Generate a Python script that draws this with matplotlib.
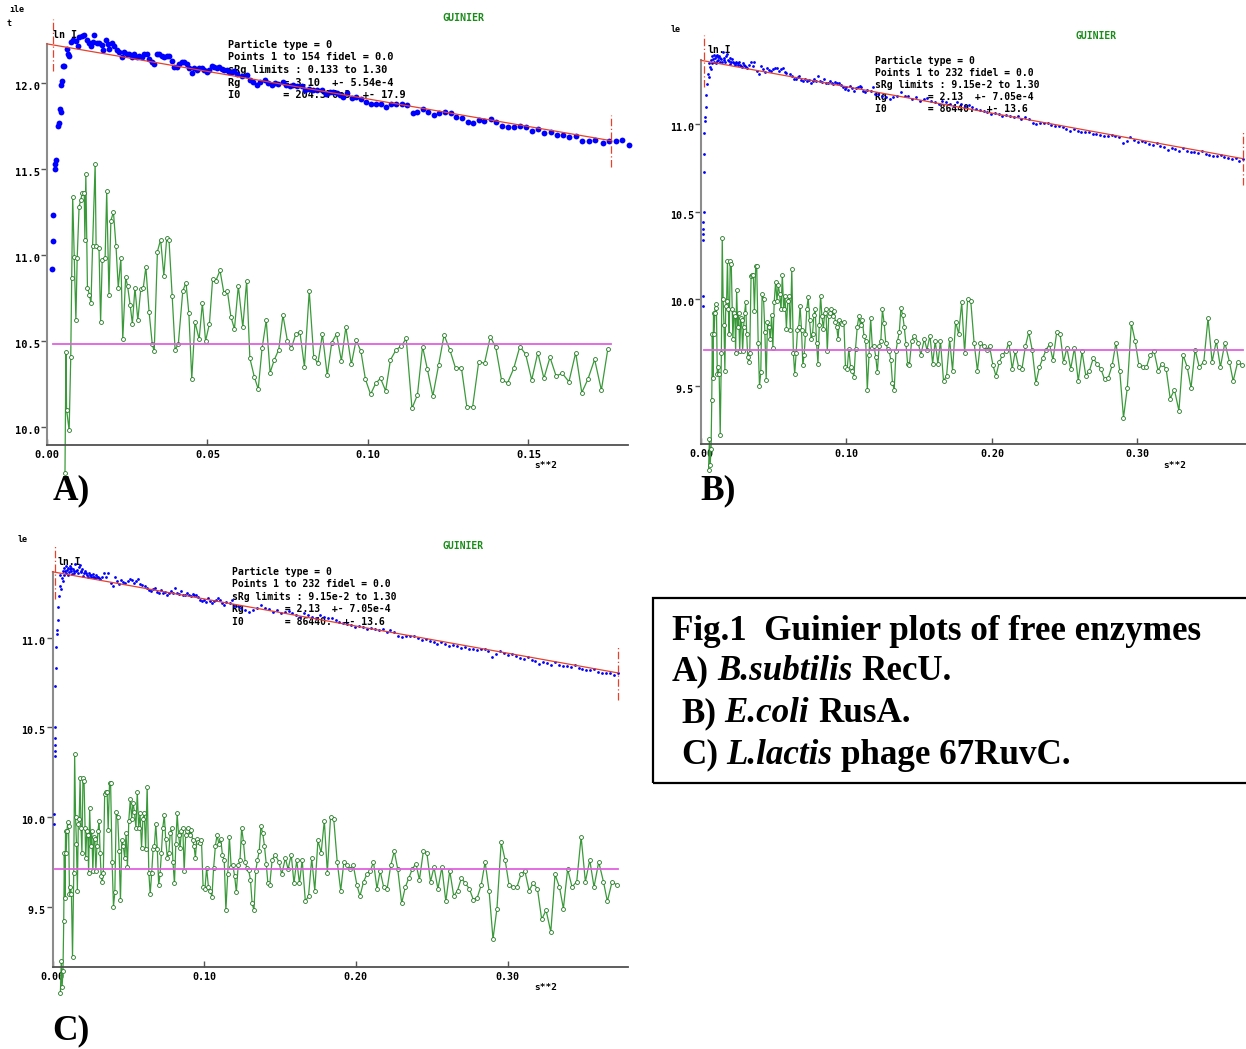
import matplotlib
matplotlib.use("Agg")
import matplotlib.pyplot as plt
from matplotlib.transforms import ScaledTranslation
from matplotlib.patches import Rectangle
import numpy as np

# ---------------- data: panel A (B.subtilis RecU) ----------------
a_blue_x = [0.0017, 0.0018, 0.0019, 0.0024, 0.0026, 0.0028, 0.0035, 0.0038, 0.0040, 0.0043,
            0.0045, 0.0046, 0.0051, 0.0054, 0.0061, 0.0064, 0.0069, 0.0075, 0.0082, 0.0090,
            0.0096, 0.0101, 0.0108, 0.0116, 0.0124, 0.0132, 0.0137, 0.0144, 0.0147, 0.0155,
            0.0163, 0.0170, 0.0175, 0.0184, 0.0189, 0.0194, 0.0201, 0.0209, 0.0217, 0.0225,
            0.0233, 0.0240, 0.0248, 0.0256, 0.0264, 0.0272, 0.0279, 0.0288, 0.0295, 0.0302,
            0.0311, 0.0319, 0.0326, 0.0333, 0.0342, 0.0350, 0.0357, 0.0364, 0.0373, 0.0380,
            0.0388, 0.0396, 0.0404, 0.0412, 0.0420, 0.0428, 0.0435, 0.0442, 0.0451, 0.0459,
            0.0466, 0.0474, 0.0482, 0.0490, 0.0497, 0.0506, 0.0514, 0.0521, 0.0529, 0.0537,
            0.0544, 0.0552, 0.0560, 0.0567, 0.0575, 0.0584, 0.0591,
            0.0607, 0.0623, 0.0632, 0.0642, 0.0654, 0.0664, 0.0679, 0.0688, 0.0701, 0.0710,
            0.0720, 0.0735, 0.0745, 0.0757, 0.0766, 0.0779, 0.0794, 0.0804, 0.0816, 0.0829,
            0.0841, 0.0857, 0.0869, 0.0882,
            0.0892, 0.0902, 0.0913, 0.0923, 0.0934, 0.0949, 0.0963, 0.0978, 0.0993, 0.1008,
            0.1024, 0.1040, 0.1056, 0.1072, 0.1087, 0.1105, 0.1122, 0.1139, 0.1154, 0.1172,
            0.1188, 0.1206, 0.1221, 0.1240, 0.1258, 0.1274, 0.1292, 0.1310, 0.1328, 0.1346,
            0.1361, 0.1382, 0.1399, 0.1418, 0.1435, 0.1455, 0.1474, 0.1491, 0.1510, 0.1531,
            0.1549, 0.1569, 0.1588, 0.1607, 0.1627, 0.1648, 0.1668, 0.1688, 0.1707, 0.1731,
            0.1751, 0.1772, 0.1790, 0.1813]
a_blue_y = [10.92, 11.08, 11.23, 11.50, 11.53, 11.55, 11.75, 11.77, 11.85, 11.83,
            11.99, 12.01, 12.10, 12.10, 12.20, 12.17, 12.16, 12.24, 12.25, 12.244,
            12.217, 12.27, 12.275, 12.28, 12.25, 12.23, 12.217, 12.237, 12.28, 12.23,
            12.235, 12.22, 12.19, 12.25, 12.225, 12.20, 12.23, 12.217, 12.19, 12.18,
            12.15, 12.18, 12.17, 12.17, 12.15, 12.17, 12.15, 12.16, 12.15, 12.17,
            12.17, 12.14, 12.12, 12.11, 12.17, 12.17, 12.16, 12.15, 12.16, 12.16,
            12.13, 12.095, 12.095, 12.11, 12.12, 12.12, 12.11, 12.085, 12.06, 12.085,
            12.076, 12.09, 12.09, 12.076, 12.066, 12.076, 12.10, 12.095, 12.09, 12.095,
            12.08, 12.076, 12.076, 12.066, 12.066, 12.07, 12.05,
            12.04, 12.047, 12.017, 12.008, 11.988, 12.008, 12.02, 12.002, 11.988, 11.998,
            11.994, 12.008, 11.988, 11.983, 11.987, 11.98, 11.98, 11.96, 11.965, 11.957,
            11.957, 11.96, 11.936, 11.948,
            11.946, 11.944, 11.930, 11.920, 11.940, 11.915, 11.920, 11.905, 11.891, 11.876,
            11.876, 11.876, 11.862, 11.876, 11.876, 11.876, 11.872, 11.824, 11.830, 11.847,
            11.830, 11.812, 11.824, 11.833, 11.824, 11.804, 11.798, 11.772, 11.766, 11.785,
            11.781, 11.789, 11.773, 11.752, 11.742, 11.742, 11.752, 11.742, 11.721, 11.731,
            11.711, 11.717, 11.698, 11.696, 11.684, 11.694, 11.665, 11.665, 11.669, 11.649,
            11.663, 11.663, 11.669, 11.640]

a_res_x = [0.0056, 0.0059, 0.0061, 0.0069, 0.0074, 0.0077, 0.0080, 0.0085, 0.0090, 0.0094,
           0.0100, 0.0105, 0.0110, 0.0116, 0.0118, 0.0121, 0.0126, 0.0132, 0.0137, 0.0142,
           0.0150, 0.0153, 0.0162, 0.0167, 0.0172, 0.0181, 0.0186, 0.0193, 0.0199, 0.0207,
           0.0215, 0.0222, 0.0230, 0.0236, 0.0245, 0.0251, 0.0259, 0.0266, 0.0274, 0.0283,
           0.0292, 0.0300, 0.0308, 0.0318, 0.0328, 0.0334, 0.0344, 0.0354, 0.0364, 0.0373,
           0.0380, 0.0390, 0.0399, 0.0409, 0.0423, 0.0433, 0.0442, 0.0451, 0.0461, 0.0474,
           0.0484, 0.0494, 0.0506, 0.0516, 0.0526, 0.0539, 0.0551, 0.0562, 0.0573, 0.0584,
           0.0596, 0.0610, 0.0622, 0.0632, 0.0646, 0.0658, 0.0670, 0.0683, 0.0695, 0.0708,
           0.0722, 0.0735, 0.0749, 0.0761, 0.0775, 0.0788, 0.0802, 0.0817, 0.0831, 0.0844,
           0.0858, 0.0873, 0.0887, 0.0902, 0.0917, 0.0931, 0.0948, 0.0963, 0.0978, 0.0992,
           0.1008, 0.1024, 0.1039, 0.1055, 0.1070, 0.1088, 0.1104, 0.1119, 0.1137, 0.1154,
           0.1170, 0.1185, 0.1202, 0.1220, 0.1237, 0.1255, 0.1273, 0.1291, 0.1308, 0.1326,
           0.1345, 0.1363, 0.1381, 0.1398, 0.1416, 0.1435, 0.1454, 0.1473, 0.1491, 0.1510,
           0.1529, 0.1548, 0.1567, 0.1586, 0.1605, 0.1626, 0.1647, 0.1666, 0.1685, 0.1706,
           0.1727, 0.1747]
a_res_y = [9.73, 10.434, 10.10, 9.98, 10.407, 10.867, 11.34, 10.99, 10.62, 10.98,
           11.28, 11.32, 11.36, 11.36, 11.085, 11.47, 10.81, 10.77, 10.72, 11.05,
           11.53, 11.05, 11.04, 10.61, 10.97, 10.98, 11.37, 10.77, 11.20, 11.25,
           11.05, 10.81, 10.98, 10.51, 10.87, 10.82, 10.71, 10.60, 10.81, 10.62,
           10.80, 10.81, 10.93, 10.67, 10.48, 10.44, 11.02, 11.09, 10.88, 11.10,
           11.09, 10.76, 10.45, 10.48, 10.79, 10.84, 10.66, 10.28, 10.61, 10.51,
           10.72, 10.50, 10.60, 10.86, 10.85, 10.91, 10.78, 10.79, 10.64, 10.57,
           10.82, 10.58, 10.85, 10.40, 10.29, 10.22, 10.457, 10.62, 10.316, 10.39,
           10.45, 10.65, 10.50, 10.457, 10.54, 10.55, 10.35, 10.79, 10.405, 10.37,
           10.54, 10.30, 10.49, 10.54, 10.385, 10.58, 10.364, 10.506, 10.44, 10.277,
           10.19, 10.253, 10.283, 10.21, 10.39, 10.45, 10.47, 10.515, 10.108, 10.186,
           10.467, 10.335, 10.18, 10.36, 10.535, 10.448, 10.34, 10.345, 10.117, 10.117,
           10.38, 10.37, 10.525, 10.463, 10.273, 10.257, 10.34, 10.467, 10.424, 10.273,
           10.432, 10.283, 10.405, 10.296, 10.312, 10.263, 10.432, 10.20, 10.277, 10.393,
           10.214, 10.451]

a_I0, a_Rg, a_sRg = 204370.0, 3.10, (0.133, 1.30)
a_res_level = 10.48

# ---------------- data: panels B and C (same run) ----------------
b_blue_x = [0.0012, 0.0013, 0.0014, 0.0015, 0.0016, 0.0017, 0.0018, 0.0019, 0.0021, 0.0024,
            0.0027, 0.0030, 0.0033, 0.0036, 0.0044, 0.0048, 0.0052, 0.0057, 0.0062, 0.0066,
            0.0070, 0.0075, 0.0079, 0.0083, 0.0088, 0.0092, 0.0096, 0.0101, 0.0105, 0.0109,
            0.0113, 0.0116, 0.0120, 0.0125, 0.0129, 0.0134, 0.0140, 0.0145, 0.0150, 0.0155,
            0.0160, 0.0166, 0.0173, 0.0181, 0.0186, 0.0191, 0.0196, 0.0202, 0.0207, 0.0212,
            0.0218, 0.0225, 0.0231, 0.0238, 0.0244, 0.0251, 0.0257, 0.0264, 0.0270, 0.0276,
            0.0283, 0.0289, 0.0296, 0.0302, 0.0309, 0.0315, 0.0328, 0.0341, 0.0354, 0.0367,
            0.0388, 0.0398, 0.0413, 0.0426, 0.0439, 0.0452, 0.0465, 0.0478, 0.0496, 0.0509,
            0.0522, 0.0535, 0.0548, 0.0561, 0.0574, 0.0587, 0.0612, 0.0625, 0.0638, 0.0651,
            0.0664, 0.0677, 0.0690, 0.0703, 0.0716, 0.0729, 0.0742, 0.0755, 0.0767, 0.0780,
            0.0793, 0.0806, 0.0819, 0.0832, 0.0845, 0.0858, 0.0871, 0.0884, 0.0897, 0.0910,
            0.0923, 0.0935, 0.0948, 0.0961, 0.0974, 0.0987, 0.1000, 0.1013, 0.1026, 0.1039,
            0.1052, 0.1065, 0.1078, 0.1090, 0.1103, 0.1116, 0.1129, 0.1142, 0.1168, 0.1181,
            0.1194, 0.1220, 0.1245, 0.1271, 0.1297, 0.1323, 0.1349, 0.1375, 0.1401, 0.1426,
            0.1452, 0.1478, 0.1504, 0.1530, 0.1556, 0.1582, 0.1607, 0.1633, 0.1659, 0.1685,
            0.1711, 0.1736, 0.1762, 0.1788, 0.1814, 0.1840, 0.1866, 0.1892, 0.1917, 0.1943,
            0.1969, 0.1995, 0.2021, 0.2047, 0.2072, 0.2098, 0.2124, 0.2150, 0.2176, 0.2202,
            0.2227, 0.2253, 0.2279, 0.2305, 0.2331, 0.2357, 0.2382, 0.2408, 0.2434, 0.2460,
            0.2486, 0.2512, 0.2538, 0.2563, 0.2589, 0.2615, 0.2641, 0.2667, 0.2693, 0.2718,
            0.2744, 0.2770, 0.2796, 0.2822, 0.2848, 0.2873, 0.2899, 0.2925, 0.2951, 0.2977,
            0.3003, 0.3028, 0.3054, 0.3080, 0.3106, 0.3132, 0.3158, 0.3184, 0.3209, 0.3235,
            0.3261, 0.3287, 0.3313, 0.3339, 0.3365, 0.3390, 0.3416, 0.3442, 0.3468, 0.3494,
            0.3519, 0.3545, 0.3571, 0.3597, 0.3623, 0.3649, 0.3674, 0.3700, 0.3726]
b_blue_y = [9.96, 10.015, 10.34, 10.37, 10.40, 10.44, 10.50, 10.73, 10.83, 10.95,
            11.02, 11.04, 11.10, 11.17, 11.231, 11.29, 11.35, 11.269, 11.33, 11.37,
            11.317, 11.39, 11.35, 11.374, 11.40, 11.36, 11.378, 11.39, 11.35, 11.364,
            11.40, 11.384, 11.37, 11.39, 11.355, 11.38, 11.374, 11.36, 11.412, 11.37,
            11.378, 11.36, 11.393, 11.403, 11.37, 11.364, 11.38, 11.345, 11.36, 11.374,
            11.36, 11.351, 11.34, 11.359, 11.35, 11.340, 11.35, 11.355, 11.34, 11.336,
            11.33, 11.349, 11.34, 11.336, 11.33, 11.326, 11.340, 11.359, 11.336, 11.359,
            11.307, 11.288, 11.336, 11.317, 11.301, 11.321, 11.313, 11.307, 11.317, 11.326,
            11.321, 11.307, 11.317, 11.326, 11.298, 11.294, 11.288, 11.279, 11.263, 11.259,
            11.269, 11.275, 11.256, 11.250, 11.263, 11.250, 11.256, 11.240, 11.250, 11.259,
            11.250, 11.275, 11.250, 11.244, 11.259, 11.240, 11.237, 11.250, 11.240, 11.231,
            11.244, 11.240, 11.237, 11.225, 11.212, 11.202, 11.212, 11.198, 11.221, 11.206,
            11.193, 11.206, 11.212, 11.221, 11.212, 11.193, 11.183, 11.198, 11.193, 11.212,
            11.174, 11.174, 11.164, 11.155, 11.145, 11.155, 11.164, 11.183, 11.164, 11.160,
            11.145, 11.155, 11.135, 11.145, 11.149, 11.135, 11.126, 11.116, 11.135, 11.126,
            11.116, 11.107, 11.126, 11.116, 11.107, 11.111, 11.097, 11.088, 11.084, 11.078,
            11.073, 11.059, 11.065, 11.059, 11.050, 11.053, 11.046, 11.040, 11.050, 11.031,
            11.040, 11.031, 11.011, 11.002, 11.011, 11.008, 11.011, 10.996, 10.989, 10.992,
            10.983, 10.973, 10.964, 10.973, 10.964, 10.954, 10.958, 10.954, 10.945, 10.948,
            10.939, 10.935, 10.931, 10.939, 10.935, 10.926, 10.893, 10.907, 10.926, 10.912,
            10.901, 10.907, 10.897, 10.887, 10.882, 10.893, 10.878, 10.868, 10.855, 10.863,
            10.859, 10.849, 10.863, 10.849, 10.840, 10.844, 10.836, 10.849, 10.830, 10.824,
            10.821, 10.817, 10.824, 10.811, 10.805, 10.802, 10.805, 10.792, 10.802]

b_res_x = [0.0052, 0.0058, 0.0063, 0.0069, 0.0074, 0.0078, 0.0082, 0.0086, 0.0090, 0.0095,
           0.0100, 0.0106, 0.0112, 0.0118, 0.0125, 0.0132, 0.0140, 0.0146, 0.0152, 0.0158,
           0.0164, 0.0170, 0.0176, 0.0182, 0.0188, 0.0194, 0.0201, 0.0208, 0.0215, 0.0219,
           0.0226, 0.0233, 0.0238, 0.0245, 0.0252, 0.0259, 0.0266, 0.0273, 0.0279, 0.0286,
           0.0293, 0.0300, 0.0307, 0.0314, 0.0321, 0.0328, 0.0335, 0.0344, 0.0351, 0.0360,
           0.0367, 0.0376, 0.0383, 0.0393, 0.0402, 0.0411, 0.0420, 0.0430, 0.0439, 0.0448,
           0.0457, 0.0467, 0.0476, 0.0485, 0.0494, 0.0503, 0.0513, 0.0522, 0.0531, 0.0540,
           0.0550, 0.0559, 0.0568, 0.0577, 0.0587, 0.0596, 0.0605, 0.0614, 0.0624, 0.0635,
           0.0644, 0.0654, 0.0663, 0.0672, 0.0681, 0.0691, 0.0700, 0.0709, 0.0718, 0.0727,
           0.0737, 0.0746, 0.0757, 0.0767, 0.0776, 0.0785, 0.0794, 0.0804, 0.0813, 0.0822,
           0.0831, 0.0841, 0.0850, 0.0859, 0.0868, 0.0878, 0.0887, 0.0896, 0.0905, 0.0914,
           0.0924, 0.0933, 0.0942, 0.0951, 0.0961, 0.0970, 0.0982, 0.0993, 0.1005, 0.1016,
           0.1028, 0.1039, 0.1051, 0.1062, 0.1074, 0.1085, 0.1097, 0.1109, 0.1120, 0.1132,
           0.1143, 0.1155, 0.1166, 0.1178, 0.1189, 0.1201, 0.1212, 0.1224, 0.1236, 0.1247,
           0.1259, 0.1270, 0.1282, 0.1293, 0.1305, 0.1316, 0.1328, 0.1340, 0.1351, 0.1363,
           0.1374, 0.1386, 0.1397, 0.1409, 0.1420, 0.1432, 0.1448, 0.1467, 0.1493, 0.1511,
           0.1535, 0.1553, 0.1574, 0.1592, 0.1610, 0.1628, 0.1646, 0.1667, 0.1688, 0.1709,
           0.1729, 0.1750, 0.1771, 0.1792, 0.1812, 0.1833, 0.1854, 0.1877, 0.1900, 0.1921,
           0.1942, 0.1963, 0.1983, 0.2007, 0.2027, 0.2051, 0.2072, 0.2095, 0.2116, 0.2139,
           0.2160, 0.2183, 0.2206, 0.2230, 0.2253, 0.2276, 0.2302, 0.2326, 0.2349, 0.2372,
           0.2396, 0.2419, 0.2445, 0.2468, 0.2492, 0.2515, 0.2541, 0.2567, 0.2593, 0.2619,
           0.2645, 0.2670, 0.2696, 0.2722, 0.2748, 0.2774, 0.2800, 0.2826, 0.2852, 0.2878,
           0.2904, 0.2930, 0.2958, 0.2984, 0.3010, 0.3036, 0.3062, 0.3088, 0.3114, 0.3142,
           0.3168, 0.3197, 0.3225, 0.3254, 0.3285, 0.3313, 0.3342, 0.3368, 0.3396, 0.3425,
           0.3456, 0.3485, 0.3513, 0.3542, 0.3570, 0.3601, 0.3632, 0.3658, 0.3689, 0.3721]
b_res_y = [9.02, 9.20, 9.05, 9.14, 9.42, 9.80, 9.55, 9.92, 9.80, 9.92,
           9.97, 9.95, 9.57, 9.61, 9.57, 9.22, 9.69, 10.35, 10.00, 9.85,
           9.59, 9.96, 9.99, 10.22, 9.94, 9.80, 10.22, 10.20, 9.94, 9.77,
           9.92, 9.90, 9.69, 10.05, 9.84, 9.92, 9.70, 9.89, 9.88, 9.70,
           9.84, 9.92, 9.98, 9.80, 9.67, 9.64, 9.69, 10.13, 10.14, 10.14,
           9.93, 10.19, 10.19, 9.75, 9.50, 9.58, 10.03, 10.00, 9.81, 9.535,
           9.87, 9.84, 9.77, 9.91, 9.72, 9.98, 10.10, 9.99, 10.08, 10.03,
           9.94, 10.14, 9.94, 10.02, 9.83, 9.99, 10.02, 9.82, 10.17, 9.69,
           9.57, 9.69, 9.82, 9.84, 9.96, 9.82, 9.62, 9.68, 9.80, 9.94,
           10.01, 9.88, 9.77, 9.80, 9.91, 9.94, 9.75, 9.63, 9.85, 10.02,
           9.90, 9.83, 9.92, 9.94, 9.70, 9.90, 9.92, 9.94, 9.90, 9.93,
           9.87, 9.84, 9.77, 9.88, 9.86, 9.855, 9.87, 9.61, 9.60, 9.715,
           9.61, 9.59, 9.555, 9.715, 9.84, 9.90, 9.85, 9.88, 9.79, 9.76,
           9.48, 9.68, 9.89, 9.72, 9.73, 9.67, 9.58, 9.73, 9.76, 9.94,
           9.86, 9.75, 9.715, 9.705, 9.65, 9.52, 9.48, 9.70, 9.76, 9.81,
           9.95, 9.91, 9.84, 9.74, 9.63, 9.62, 9.76, 9.79, 9.75, 9.68,
           9.77, 9.71, 9.79, 9.63, 9.76, 9.63, 9.76, 9.53, 9.56, 9.77,
           9.59, 9.87, 9.80, 9.98, 9.69, 10.00, 9.99, 9.75, 9.59, 9.75,
           9.73, 9.71, 9.73, 9.62, 9.56, 9.64, 9.68, 9.70, 9.75, 9.60,
           9.70, 9.61, 9.60, 9.73, 9.81, 9.71, 9.52, 9.61, 9.66, 9.71,
           9.74, 9.65, 9.81, 9.80, 9.64, 9.72, 9.60, 9.72, 9.53, 9.70,
           9.56, 9.59, 9.66, 9.63, 9.60, 9.54, 9.55, 9.62, 9.75, 9.59,
           9.32, 9.49, 9.86, 9.76, 9.62, 9.61, 9.61, 9.68, 9.70, 9.59,
           9.63, 9.60, 9.43, 9.48, 9.36, 9.68, 9.61, 9.49, 9.71, 9.61,
           9.64, 9.89, 9.64, 9.76, 9.61, 9.75, 9.64, 9.53, 9.64, 9.62]

b_I0, b_Rg, b_sRg = 86440.0, 2.13, (0.0915, 1.30)
b_res_level = 9.71

a_info = ["Particle type = 0",
          "Points 1 to 154 fidel = 0.0",
          "sRg limits : 0.133 to 1.30",
          "Rg       = 3.10  +- 5.54e-4",
          "I0       = 204.370e3  +- 17.9"]
b_info = ["Particle type = 0",
          "Points 1 to 232 fidel = 0.0",
          "sRg limits : 9.15e-2 to 1.30",
          "Rg       = 2.13  +- 7.05e-4",
          "I0       = 86440.  +- 13.6"]

a_xticks = [0.00, 0.05, 0.10, 0.15]
a_yticks = [10.0, 10.5, 11.0, 11.5, 12.0]
b_xticks = [0.00, 0.10, 0.20, 0.30]
b_yticks = [9.5, 10.0, 10.5, 11.0]

# caption: list of (text, italic) segments per line
caption_lines = [
    [("Fig.1  Guinier plots of free enzymes", False)],
    [("A) ", False), ("B.subtilis", True), (" RecU.", False)],
    [("B) ", False), ("E.coli", True), (" RusA.", False)],
    [("C) ", False), ("L.lactis", True), (" phage 67RuvC.", False)],
]

# ---------------- styling ----------------
W, H = 1246, 1049
fig = plt.figure(figsize=(W / 100, H / 100), dpi=100)
fig.patch.set_facecolor('white')

MONO = 'DejaVu Sans Mono'
SERIF = 'Liberation Serif'
BLUE = '#0000ff'
GREEN_L = '#3a9a3a'
GREEN_M = '#1f7a1f'
RED = '#e8402a'
MAG = '#e060e0'


def fx(x):
    return x / W


def fy(y):
    return 1 - y / H


def make_panel(box, xlim, ylim, xticks, yticks, fs):
    l, t, r, b = box
    ax = fig.add_axes([fx(l), fy(b), (r - l) / W, (b - t) / H])
    ax.set_xlim(*xlim)
    ax.set_ylim(*ylim)
    ax.patch.set_alpha(0)
    for s in ('top', 'right'):
        ax.spines[s].set_visible(False)
    ax.spines['left'].set_color('#8c8c8c')
    ax.spines['left'].set_linewidth(1.5)
    ax.spines['bottom'].set_color('#505050')
    ax.spines['bottom'].set_linewidth(1.3)
    ax.set_xticks(xticks)
    ax.set_yticks(yticks)
    ax.set_xticklabels([])
    ax.set_yticklabels([])
    ax.tick_params(axis='y', direction='out', length=4, width=1, color='#555555')
    ax.tick_params(axis='x', direction='in', length=4, width=1, color='#555555')
    ytr = ax.get_yaxis_transform() + ScaledTranslation(-7 / 100, -4 / 100, fig.dpi_scale_trans)
    for v in yticks:
        ax.text(0, v, f"{v:.1f}", transform=ytr, ha='right', va='center',
                family=MONO, weight='bold', fontsize=fs, zorder=1)
    xtr = ax.get_xaxis_transform() + ScaledTranslation(0, -10 / 100, fig.dpi_scale_trans)
    for v in xticks:
        ax.text(v, 0, f"{v:.2f}", transform=xtr, ha='center', va='center',
                family=MONO, weight='bold', fontsize=fs, zorder=1)
    return ax


def ftext(ax, x, y, s, **kw):
    kw.setdefault('zorder', 1)
    return ax.text(fx(x), fy(y), s, transform=fig.transFigure, **kw)


def draw_data(ax, bx, by, bms, rx, ry, I0, Rg, sRg, level):
    lnI0 = np.log(I0)
    x1 = (sRg[0] / Rg) ** 2
    x2 = (sRg[1] / Rg) ** 2
    fit_x = np.array([0.0, x2])
    fit_y = lnI0 - Rg ** 2 / 3.0 * fit_x
    ax.plot(rx, ry, '-', color=GREEN_L, lw=0.9, marker='o', ms=2.8, mfc='white',
            mec=GREEN_M, mew=0.6, clip_on=False, zorder=2)
    ax.plot([x1, x2], [level, level], '-', color=MAG, lw=1.3, clip_on=False, zorder=2.5)
    ax.plot(bx, by, 'o', color=BLUE, ms=bms, mew=0, clip_on=False, zorder=3)
    ax.plot(fit_x, fit_y, '-', color=RED, lw=0.9, clip_on=False, zorder=3.5)
    for xv in (x1, x2):
        yv = lnI0 - Rg ** 2 / 3.0 * xv
        ax.plot([xv, xv], [yv - 0.15, yv + 0.15], color=RED, lw=0.9,
                linestyle=(0, (6, 2, 1, 2)), clip_on=False, zorder=3.5)


# ---------------- Panel A ----------------
axA = make_panel((47, 44, 628, 445), (0, 0.1810), (9.895, 12.227), a_xticks, a_yticks, 7.5)
draw_data(axA, a_blue_x, a_blue_y, 4.2, a_res_x, a_res_y, a_I0, a_Rg, a_sRg, a_res_level)
ftext(axA, 463, 18, "GUINIER", color='#1a8c1a', family=MONO, weight='bold', fontsize=7.2,
      ha='center', va='center')
ftext(axA, 53, 35, "ln I", family=MONO, weight='bold', fontsize=7.2, ha='left', va='center')
ftext(axA, 9, 10, "\u0131le", family=MONO, weight='bold', fontsize=6, ha='left', va='center')
ftext(axA, 7, 23, "t", family=MONO, weight='bold', fontsize=6, ha='left', va='center')
ftext(axA, 546, 465, "s**2", family=MONO, weight='bold', fontsize=6.8, ha='center', va='center')
for i, line in enumerate(a_info):
    ftext(axA, 228, 45 + 12.5 * i, line, family=MONO, weight='bold', fontsize=7.4,
          ha='left', va='center')

# ---------------- Panel B ----------------
axB = make_panel((701, 60, 1246, 444), (0, 0.3746), (9.1695, 11.369), b_xticks, b_yticks, 7.2)
draw_data(axB, b_blue_x, b_blue_y, 2.0, b_res_x, b_res_y, b_I0, b_Rg, b_sRg, b_res_level)
ftext(axB, 1096, 36, "GUINIER", color='#1a8c1a', family=MONO, weight='bold', fontsize=7.0,
      ha='center', va='center')
ftext(axB, 708, 50, "ln.I", family=MONO, weight='bold', fontsize=7.0, ha='left', va='center')
ftext(axB, 671, 29, "le", family=MONO, weight='bold', fontsize=6, ha='left', va='center')
ftext(axB, 1175, 465, "s**2", family=MONO, weight='bold', fontsize=6.8, ha='center', va='center')
for i, line in enumerate(b_info):
    ftext(axB, 875, 61 + 12.1 * i, line, family=MONO, weight='bold', fontsize=7.0,
          ha='left', va='center')

# ---------------- Panel C ----------------
axC = make_panel((52.5, 572, 628, 967), (0, 0.3794), (9.164, 11.366), b_xticks, b_yticks, 7.2)
draw_data(axC, b_blue_x, b_blue_y, 2.0, b_res_x, b_res_y, b_I0, b_Rg, b_sRg, b_res_level)
ftext(axC, 463, 546, "GUINIER", color='#1a8c1a', family=MONO, weight='bold', fontsize=7.0,
      ha='center', va='center')
ftext(axC, 58, 562, "ln.I", family=MONO, weight='bold', fontsize=7.0, ha='left', va='center')
ftext(axC, 18, 540, "le", family=MONO, weight='bold', fontsize=6, ha='left', va='center')
ftext(axC, 546, 988, "s**2", family=MONO, weight='bold', fontsize=6.8, ha='center', va='center')
for i, line in enumerate(b_info):
    ftext(axC, 232, 572 + 12.4 * i, line, family=MONO, weight='bold', fontsize=7.0,
          ha='left', va='center')

# ---------------- panel letters ----------------
LET_FS = 25.5
fig.text(fx(53), fy(491), "A)", family=SERIF, weight='bold', fontsize=LET_FS, ha='left', va='center')
fig.text(fx(700), fy(491), "B)", family=SERIF, weight='bold', fontsize=LET_FS, ha='left', va='center')
fig.text(fx(52), fy(1031), "C)", family=SERIF, weight='bold', fontsize=LET_FS, ha='left', va='center')

# ---------------- caption box ----------------
fig.add_artist(Rectangle((fx(653), fy(783)), (1260 - 653) / W, (783 - 598) / H,
                         transform=fig.transFigure, fill=False, edgecolor='black',
                         linewidth=1.6, clip_on=False))

CAP_FS = 25.2
renderer = fig.canvas.get_renderer()


def text_width(s, italic):
    t = fig.text(0, 0, s, family=SERIF, weight='bold',
                 style='italic' if italic else 'normal', fontsize=CAP_FS)
    w = t.get_window_extent(renderer).width
    t.remove()
    return w


space_w = text_width("x x", False) - text_width("xx", False)
cap_x = [672, 672, 681, 681]
cap_y = [631, 672, 714, 755]
for xx, yy, segs in zip(cap_x, cap_y, caption_lines):
    cur = float(xx)
    for s, it in segs:
        lead = len(s) - len(s.lstrip(' '))
        trail = len(s) - len(s.rstrip(' '))
        core = s.strip(' ')
        cur += lead * space_w
        fig.text(fx(cur), fy(yy), core, family=SERIF, weight='bold',
                 style='italic' if it else 'normal', fontsize=CAP_FS,
                 ha='left', va='center')
        cur += text_width(core, it) + trail * space_w

fig.savefig("out.png", dpi=100, facecolor='white')
